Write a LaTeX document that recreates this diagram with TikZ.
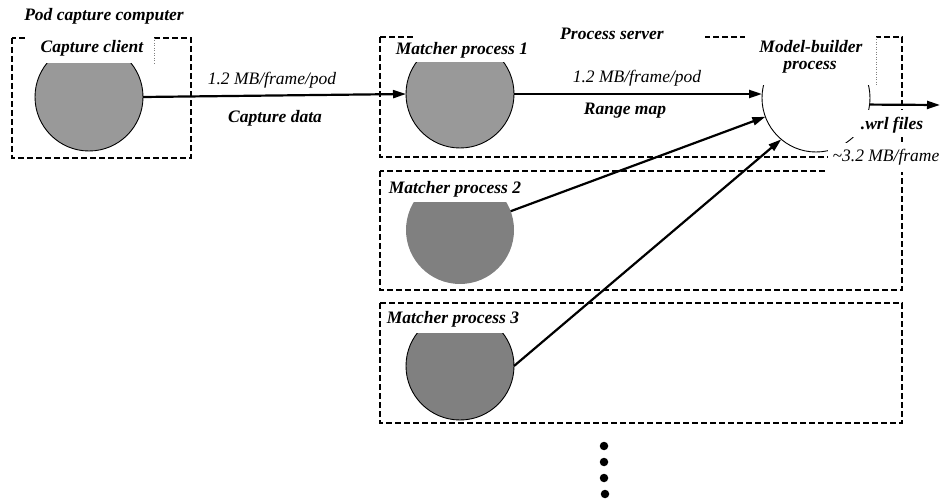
\documentclass[tikz,border=0pt]{standalone}
\usepackage{fontspec}
\setmainfont{Liberation Serif}
\usetikzlibrary{arrows.meta}
\definecolor{grayA}{HTML}{999999}
\definecolor{grayB}{HTML}{808080}
\begin{document}
\begin{tikzpicture}[x=1bp,y=-1bp,
  box/.style={draw,line width=2.2bp,dash pattern=on 6bp off 3bp},
  proc/.style={circle,draw,line width=0.9bp,minimum size=108bp,inner sep=0pt,outer sep=0pt},
  lab/.style={font=\fontsize{17.5bp}{20bp}\selectfont\bfseries\itshape,inner sep=0pt},
  rate/.style={font=\fontsize{17.5bp}{20bp}\selectfont\itshape,inner sep=0pt},
  flow/.style={line width=2.2bp,-{Triangle[length=13bp,width=8bp]}},
  cover/.style={fill=white},
  edgeline/.style={gray,line width=0.5bp,dotted},
  dotn/.style={circle,fill=black,inner sep=0pt,minimum size=8.5bp}]
\useasboundingbox (0,0) rectangle (944,504);

% dashed boxes
\draw[box] (12,38) rectangle (191,158);
\draw[box] (380,37) rectangle (902,157);
\draw[box] (380,171) rectangle (902,290);
\draw[box] (380,303) rectangle (902,423);

% processes
\node[proc,fill=grayA] (cc) at (89,97) {};
\node[proc,fill=grayA] (m1) at (460,94) {};
\node[proc,draw=none,fill=grayB] (m2) at (460,230) {};
\node[proc,fill=grayB] (m3) at (460,366) {};
\node[proc,fill=white] (mb) at (816,98) {};

% connectors
\draw[flow] (cc.east) -- (m1.west);
\draw[flow] (m1.east) -- (m1.east -| mb.west);
\draw[flow] (m2) -- (mb);
\draw[flow] (m3.east) -- (mb.230);
\coordinate (out) at (940,105);
\draw[flow] (mb.-7) -- (out);

% label backgrounds
\fill[cover] (27,30) rectangle (154,63);
\fill[cover] (415,28) rectangle (522,62);
\fill[cover] (522,22) rectangle (705,44);
\fill[cover] (745,28) rectangle (876,85);
\fill[cover] (852,110) rectangle (936,137);
\fill[cover] (828,143) rectangle (942,172.5);
\fill[cover] (395,175) rectangle (525,202);
\fill[cover] (395,307) rectangle (525,333);
\draw[edgeline] (154,38) -- (154,63);
\draw[edgeline] (876,37) -- (876,85);

% texts
\node[lab] (tpod) at (104,16) {Pod capture computer};
\node[lab] (tcc) at (92,48) {Capture client};
\node[rate] (r1) at (272,80) {1.2 MB/frame/pod};
\node[lab] (tcd) at (275,118) {Capture data};
\node[lab] (tm1) at (462,50) {Matcher process 1};
\node[lab] (tps) at (612,34) {Process server};
\node[rate] (r2) at (637,78) {1.2 MB/frame/pod};
\node[lab] (trm) at (625,111) {Range map};
\node[lab] (tmb1) at (811,47) {Model-builder};
\node[lab] (tmb2) at (810,67) {process};
\node[lab] (twrl) at (892,125) {.wrl files};
\node[rate] (r3) at (886,157) {\textasciitilde 3.2 MB/frame};
\node[lab] (tm2) at (455,189) {Matcher process 2};
\node[lab] (tm3) at (453,319) {Matcher process 3};

% ellipsis dots
\node[dotn] (d1) at (604,446) {};
\node[dotn] (d2) at (604,462) {};
\node[dotn] (d3) at (604,478) {};
\node[dotn] (d4) at (605,494) {};
\end{tikzpicture}
\end{document}
